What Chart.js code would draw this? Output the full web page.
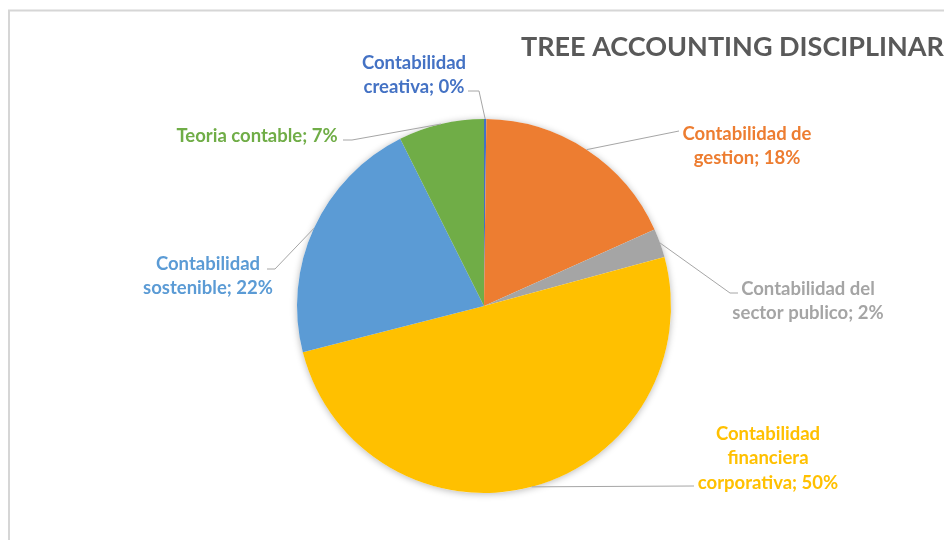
<!DOCTYPE html>
<html>
<head>
<meta charset="utf-8">
<script src="https://cdn.jsdelivr.net/npm/chart.js@4.4.1/dist/chart.umd.min.js"></script>
<style>
  html, body { margin: 0; padding: 0; background: #fff; overflow: hidden; }
  #wrap { width: 944px; height: 540px; }
</style>
</head>
<body>
<div id="wrap"><canvas id="pieChart" width="944" height="540"></canvas></div>
<script>
// Data (shares in %, slices clockwise from 12 o'clock)
const categories = [
  ["Contabilidad", "creativa"],
  ["Contabilidad de", "gestion"],
  ["Contabilidad del", "sector publico"],
  ["Contabilidad", "financiera", "corporativa"],
  ["Contabilidad", "sostenible"],
  ["Teoria contable"],
]
const shares = [0.2, 18.1, 2.5, 50.3, 21.6, 7.4]
const sliceColors = ["#4472C4", "#ED7D31", "#A5A5A5", "#FFC000", "#5B9BD5", "#70AD47"]
const chartTitle = "TREE ACCOUNTING DISCIPLINAR"

// where each data label sits (text centre x, first line y) and the bend points of its leader line
const labelLayout = [
  { x: 414, y: 63, leader: [[479, 91], [468, 91]] },
  { x: 747, y: 134, leader: [[679, 131]] },
  { x: 808, y: 289, leader: [[730, 293], [738, 293]] },
  { x: 768, y: 434, leader: [[694, 486]] },
  { x: 208, y: 264, leader: [[275, 269], [267, 269]] },
  { x: 257, y: 136, leader: [[352, 140], [343, 140]] },
]

const LABEL_FONT = "bold 18.5px Lato"
const LINE_H = 24.5

const total = shares.reduce((a, b) => a + b, 0)

const pieDecor = {
  id: "pieDecor",
  beforeDraw(chart) {
    const ctx = chart.ctx
    ctx.save()
    ctx.fillStyle = "#fff"
    ctx.fillRect(0, 0, chart.width, chart.height)
    // chart area frame (cropped on the right and bottom)
    ctx.strokeStyle = "#d6d6d6"
    ctx.lineWidth = 2
    ctx.beginPath()
    ctx.moveTo(9, chart.height + 5)
    ctx.lineTo(9, 10.5)
    ctx.lineTo(chart.width + 5, 10.5)
    ctx.stroke()
    ctx.restore()
  },
  beforeDatasetsDraw(chart) {
    // soft shadow under the pie
    const arc = chart.getDatasetMeta(0).data[0]
    if (!arc) return
    const { x, y, outerRadius } = arc.getProps(["x", "y", "outerRadius"], true)
    const ctx = chart.ctx
    ctx.save()
    ctx.shadowColor = "rgba(0,0,0,0.28)"
    ctx.shadowBlur = 7
    ctx.shadowOffsetY = 1
    ctx.fillStyle = "#fff"
    ctx.beginPath()
    ctx.arc(x, y, outerRadius, 0, Math.PI * 2)
    ctx.fill()
    ctx.restore()
  },
  afterDatasetsDraw(chart) {
    const ctx = chart.ctx
    const meta = chart.getDatasetMeta(0)
    ctx.save()
    meta.data.forEach((arc, i) => {
      const { x, y, startAngle, endAngle, outerRadius } = arc.getProps(["x", "y", "startAngle", "endAngle", "outerRadius"], true)
      const mid = (startAngle + endAngle) / 2
      const lay = labelLayout[i]

      // leader line
      ctx.strokeStyle = "#a6a6a6"
      ctx.lineWidth = 1
      ctx.beginPath()
      ctx.moveTo(x + Math.cos(mid) * outerRadius, y + Math.sin(mid) * outerRadius)
      lay.leader.forEach((p) => ctx.lineTo(p[0], p[1]))
      ctx.stroke()

      // label text: category; percent
      const pct = Math.round((shares[i] / total) * 100)
      const lines = categories[i].slice()
      lines[lines.length - 1] += "; " + pct + "%"
      ctx.font = LABEL_FONT
      ctx.fillStyle = sliceColors[i]
      ctx.textAlign = "center"
      ctx.textBaseline = "middle"
      lines.forEach((t, k) => ctx.fillText(t, lay.x, lay.y + k * LINE_H))
    })
    ctx.restore()
  },
  afterDraw(chart) {
    const ctx = chart.ctx
    ctx.save()
    ctx.font = "bold 27px Lato"
    ctx.fillStyle = "#595959"
    ctx.textAlign = "left"
    ctx.textBaseline = "middle"
    ctx.fillText(chartTitle, 521, 47)
    ctx.restore()
  },
}

new Chart(document.getElementById("pieChart"), {
  type: "pie",
  data: {
    labels: categories.map((c) => c.join(" ")),
    datasets: [
      {
        data: shares,
        backgroundColor: sliceColors,
        borderWidth: 0,
        hoverOffset: 0,
        offset: 0,
      },
    ],
  },
  options: {
    responsive: false,
    animation: false,
    layout: { padding: { top: 119, bottom: 47, left: 297, right: 273 } },
    plugins: {
      legend: { display: false },
      tooltip: { enabled: false },
      title: { display: false },
    },
  },
  plugins: [pieDecor],
})
</script>
</body>
</html>
